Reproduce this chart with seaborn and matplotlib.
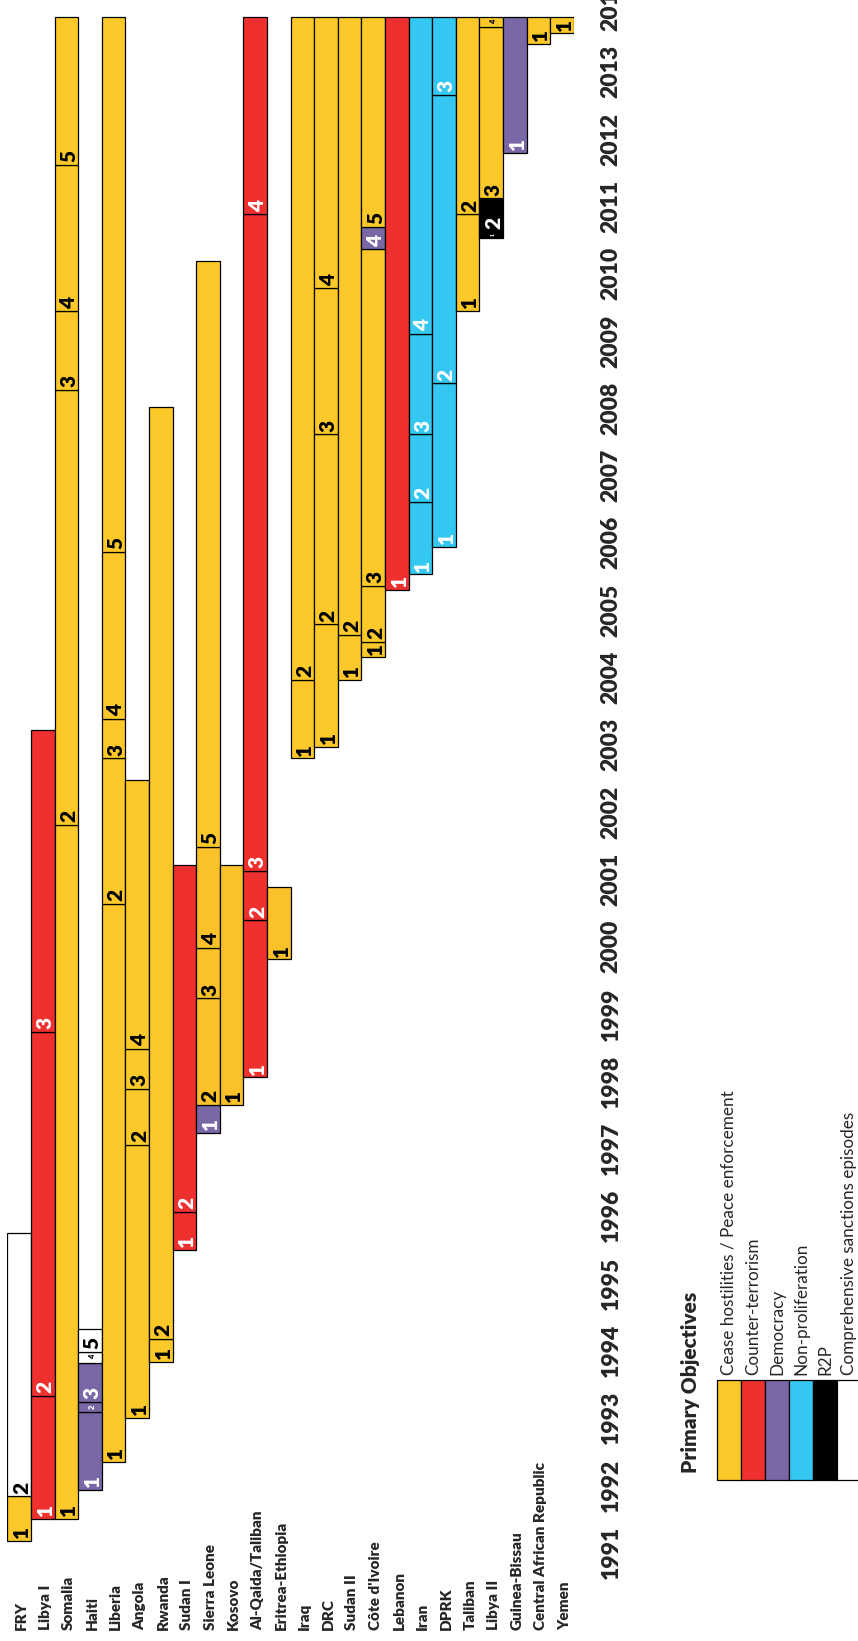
import pandas as pd
import seaborn as sns
import matplotlib.pyplot as plt
from matplotlib.patches import Rectangle

# sanctions regimes, top to bottom in the original (left to right here)
rows = ["FRY", "Libya I", "Somalia", "Haiti", "Liberia", "Angola", "Rwanda",
        "Sudan I", "Sierra Leone", "Kosovo", "Al-Qaida/Taliban", "Eritrea-Ethiopia",
        "Iraq", "DRC", "Sudan II", "Côte d'Ivoire", "Lebanon", "Iran", "DPRK",
        "Taliban", "Libya II", "Guinea-Bissau", "Central African Republic", "Yemen"]

# start of every episode (fractional year), episodes are numbered 1..n per regime
episode_starts = [
    [1991.67, 1992.33],
    [1992.00, 1993.83, 1999.23],
    [1992.00, 2002.31, 2008.77, 2009.94, 2012.12],
    [1992.43, 1993.58, 1993.74, 1994.32, 1994.48],
    [1992.84, 2001.14, 2003.30, 2003.88, 2006.37],
    [1993.50, 1997.55, 1998.39, 1998.98],
    [1994.33, 1994.67],
    [1995.99, 1996.56],
    [1997.73, 1998.15, 1999.73, 2000.48, 2001.98],
    [1998.15],
    [1998.56, 2000.89, 2001.63, 2011.38],
    [2000.31],
    [2003.30, 2004.46],
    [2003.47, 2005.29, 2008.11, 2010.28],
    [2004.46, 2005.13],
    [2004.80, 2005.03, 2005.86, 2010.86, 2011.20],
    [2005.80],
    [2006.03, 2007.11, 2008.11, 2009.61],
    [2006.44, 2008.87, 2013.16],
    [2009.95, 2011.38],
    [2011.03, 2011.13, 2011.62, 2014.16],
    [2012.29],
    [2013.91],
    [2014.07],
]
regime_end = [1996.25, 2003.72, 2014.32, 1994.82, 2014.32, 2002.98, 2008.52,
              2001.72, 2010.69, 2001.72, 2014.32, 2001.38, 2014.32, 2014.32,
              2014.32, 2014.32, 2014.32, 2014.32, 2014.32, 2014.32, 2014.32,
              2014.32, 2014.32, 2014.32]
# primary objective per episode: C cease hostilities (A = same, darker shade),
# T counter-terrorism, D democracy, N non-proliferation, R R2P, X comprehensive
episode_objs = ["CX", "TTT", "CCCCC", "DDDXX", "CCCCC", "CCCC", "CC", "TT",
                "DAAAC", "A", "TTTT", "A", "CC", "CCCC", "CC", "CCCDC", "T",
                "NNNN", "NNN", "CC", "RRCC", "D", "C", "C"]

years = list(range(1991, 2015))

legend_names = ["Cease hostilities / Peace enforcement", "Counter-terrorism", "Democracy",
                "Non-proliferation", "R2P", "Comprehensive sanctions episodes"]
legend_codes = ["C", "T", "D", "N", "R", "X"]

fill = {"C": "#FDC92A", "A": "#FBC12B", "T": "#EE312F", "D": "#7A68A6",
        "N": "#34C7F2", "R": "#000000", "X": "#FFFFFF"}
ink = {"C": "black", "A": "black", "T": "white", "D": "white",
       "N": "white", "R": "white", "X": "black"}

# flat table of segments
recs = []
for i, (name, starts, objs) in enumerate(zip(rows, episode_starts, episode_objs)):
    ends = starts[1:] + [regime_end[i]]
    for k, (s, e, o) in enumerate(zip(starts, ends, objs)):
        recs.append({"row": i, "regime": name, "episode": k + 1,
                     "start": s, "end": e, "obj": o})
seg = pd.DataFrame(recs)
seg["dur"] = seg["end"] - seg["start"]

sns.set_theme(style="white")
plt.rcParams["font.family"] = ["Lato", "DejaVu Sans"]

W, H = 858, 1641
fig = plt.figure(figsize=(W / 100, H / 100), dpi=100)
px_year = 67.3
ax = fig.add_axes([7.3 / W, (H - 1586) / H, (573.7 - 7.3) / W, 1586 / H])
ax.set_xlim(0, len(rows))
ax.set_ylim(1991, 1991 + 1586 / px_year)

ax.bar(seg["row"] + 0.5, seg["dur"], bottom=seg["start"], width=1.0,
       color=[fill[o] for o in seg["obj"]], edgecolor="black", linewidth=0.9,
       zorder=2)

for _, r in seg.iterrows():
    if r["dur"] >= 0.2:
        ax.text(r["row"] + 0.6, r["start"] + 0.04, str(r["episode"]), rotation=90,
                ha="center", va="bottom", fontsize=15, fontweight="heavy",
                color=ink[r["obj"]], zorder=3)
    else:
        fs = 5.5 if r["dur"] >= 0.13 else 3.5
        ax.text(r["row"] + 0.6, (r["start"] + r["end"]) / 2, str(r["episode"]),
                rotation=90, ha="center", va="center", fontsize=fs,
                fontweight="heavy", color=ink[r["obj"]], zorder=3)

# regime names below the bars
for i, name in enumerate(rows):
    ax.annotate(name, xy=(i + 0.6, 0), xycoords=("data", "axes fraction"),
                xytext=(0, -44 * 0.72), textcoords="offset points", rotation=90,
                ha="center", va="bottom", fontsize=11, fontweight="heavy",
                annotation_clip=False)

ax.set_xticks([])
ax.yaxis.tick_right()
ax.set_yticks([y + 0.5 for y in years])
ax.set_yticklabels([str(y) for y in years], rotation=90, va="center", ha="center",
                   fontsize=16.5, fontweight="heavy")
ax.tick_params(axis="y", length=0, pad=27)
sns.despine(ax=ax, left=True, bottom=True, right=True, top=True)

# legend drawn in pixel space, rotated like the rest of the chart
lg = fig.add_axes([0, 0, 1, 1])
lg.set_xlim(0, W)
lg.set_ylim(H, 0)
lg.axis("off")
lg.patch.set_alpha(0)
lg.text(690, 1473, "Primary Objectives", rotation=90, ha="center", va="bottom",
        fontsize=15, fontweight="heavy")
clip = Rectangle((700, 1045), 170, 440, transform=lg.transData, visible=False)
lg.add_patch(clip)
for k, (name, code) in enumerate(zip(legend_names, legend_codes)):
    x0 = 717 + 24 * k
    lg.add_patch(Rectangle((x0, 1380), 24, 100, facecolor=fill[code],
                           edgecolor="black", linewidth=0.9))
    t = lg.text(x0 + 12, 1375, name, rotation=90, ha="center", va="bottom",
                fontsize=12.3)
    t.set_clip_path(clip)

fig.savefig("out.png", dpi=100)
